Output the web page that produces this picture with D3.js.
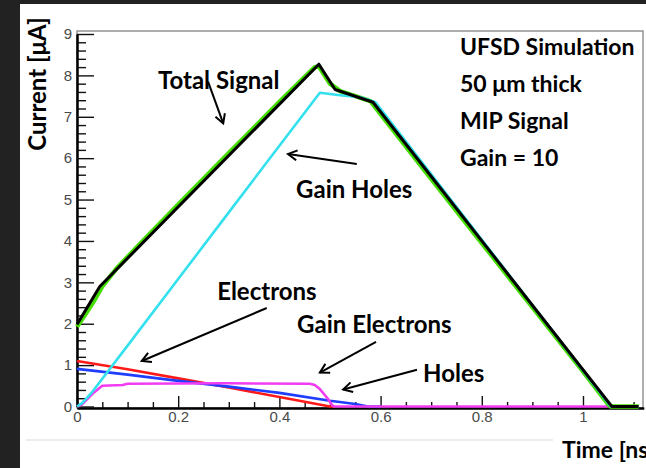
<!DOCTYPE html>
<html>
<head>
<meta charset="utf-8">
<script src="https://cdn.jsdelivr.net/npm/d3@7"></script>
<style>
  body { margin: 0; background: #fff; }
  svg { display: block; }
</style>
</head>
<body>
<script>
// time in ns, current in uA
var totalTime    = [0, 0.045, 0.478, 0.51, 0.585, 1.057, 1.11];
var totalCurrent = [1.98, 2.9, 8.27, 7.66, 7.35, 0, 0];

var simTime    = [0, 0.015, 0.035, 0.05, 0.08, 0.12, 0.2, 0.3, 0.4, 0.47, 0.478, 0.5, 0.52, 0.58, 0.7, 0.8, 0.9, 1.0, 1.05, 1.055, 1.11];
var simCurrent = [1.93, 2.2, 2.58, 2.9, 3.36, 3.87, 4.88, 6.12, 7.36, 8.2, 8.22, 7.8, 7.62, 7.38, 5.5, 3.95, 2.4, 0.85, 0.05, 0, 0];

var gainHolesTime    = [0, 0.01, 0.03, 0.1, 0.2, 0.3, 0.4, 0.48, 0.52, 0.56, 0.59, 1.055, 1.11];
var gainHolesCurrent = [0, 0.08, 0.35, 1.47, 3.08, 4.69, 6.3, 7.58, 7.52, 7.47, 7.35, 0, 0];

var electronsTime    = [0, 0.1, 0.2, 0.3, 0.4, 0.5, 0.51];
var electronsCurrent = [1.1, 0.9, 0.68, 0.46, 0.23, 0.0, 0];

var holesTime    = [0, 0.1, 0.2, 0.3, 0.4, 0.5, 0.55, 0.575, 0.6];
var holesCurrent = [0.91, 0.77, 0.62, 0.48, 0.33, 0.14, 0.06, 0, 0];

var gainElecTime    = [0, 0.01, 0.03, 0.05, 0.09, 0.1, 0.3, 0.46, 0.47, 0.48, 0.495, 0.505, 0.51, 1.11];
var gainElecCurrent = [0, 0.05, 0.3, 0.5, 0.52, 0.55, 0.56, 0.55, 0.52, 0.42, 0.2, 0.02, 0, 0];

var xMajor = [0, 0.2, 0.4, 0.6, 0.8, 1];
var yMajor = [0, 1, 2, 3, 4, 5, 6, 7, 8, 9];

var infoLines = ["UFSD Simulation", "50 \u03bcm thick", "MIP Signal", "Gain = 10"];

// label text, position [t, I], arrow from [t, I] to [t, I]
var labelNames = ["Total Signal", "Gain Holes", "Electrons", "Gain Electrons", "Holes"];
var labelPos   = [[0.16, 7.66], [0.433, 5.04], [0.277, 2.57], [0.435, 1.78], [0.684, 0.6]];
var arrowFrom  = [[0.259, 7.85], [0.553, 5.86], [0.375, 2.38], [0.591, 1.56], [0.672, 0.89]];
var arrowTo    = [[0.289, 6.84], [0.417, 6.10], [0.128, 1.10], [0.480, 0.82], [0.526, 0.41]];

var w = 646;
var h = 468;
var svg = d3.select("body").append("svg")
            .attr("width", w)
            .attr("height", h);

// slide background
svg.append("rect").attr("width", w).attr("height", h).style("fill", "#fff");
svg.append("rect").attr("width", 20).attr("height", h).style("fill", "#222");
svg.append("rect").attr("width", w).attr("height", 4).style("fill", "#222");
svg.append("line")
   .attr("x1", 26).attr("x2", 553).attr("y1", 440).attr("y2", 440)
   .style("stroke", "#ececec").style("stroke-width", 2);

var x = d3.scaleLinear().domain([0, 1.12]).range([77, 643.7]);
var y = d3.scaleLinear().domain([0, 9]).range([406.5, 34]);

// frame
svg.append("rect")
   .attr("x", 77).attr("y", 31)
   .attr("width", 566).attr("height", 377)
   .style("fill", "none").style("stroke", "#777").style("stroke-width", 1.2);

var xMinor = d3.range(0, 1.12, 0.05).filter(function(v){
  return Math.abs(v / 0.2 - Math.round(v / 0.2)) > 1e-6;
});
var yMinor = d3.range(0, 9.01, 0.2).filter(function(v){
  return Math.abs(v - Math.round(v)) > 1e-6;
});

function styleAxis(g){
  g.select(".domain").style("stroke", "#000").style("stroke-width", 2);
  g.selectAll(".tick line").style("stroke", "#111").style("stroke-width", 1.4);
  g.selectAll("text")
   .style("font-family", "'Liberation Sans', Arial, sans-serif")
   .style("font-size", "15px")
   .style("fill", "#4a4a4a");
}

svg.append("g")
   .attr("transform", "translate(0,408)")
   .call(d3.axisBottom(x).tickValues(xMinor).tickSize(-6).tickSizeOuter(0).tickFormat(""))
   .call(styleAxis);
svg.append("g")
   .attr("transform", "translate(0,408)")
   .call(d3.axisBottom(x).tickValues(xMajor).tickSize(-12).tickSizeOuter(0).tickPadding(3)
         .tickFormat(function(d){ return d3.format("")(d); }))
   .call(styleAxis);

svg.append("g")
   .attr("transform", "translate(77,0)")
   .call(d3.axisLeft(y).tickValues(yMinor).tickSize(-9).tickSizeOuter(0).tickFormat(""))
   .call(styleAxis);
svg.append("g")
   .attr("transform", "translate(77,0)")
   .call(d3.axisLeft(y).tickValues(yMajor).tickSize(-17).tickSizeOuter(0).tickPadding(5))
   .call(styleAxis);

// curves
var line = d3.line()
  .x(function(d){ return x(d[0]); })
  .y(function(d){ return y(d[1]); });

function drawCurve(times, values, color, width){
  svg.append("path")
     .datum(d3.zip(times, values))
     .attr("d", line)
     .style("fill", "none")
     .style("stroke", color)
     .style("stroke-width", width)
     .style("stroke-linejoin", "round");
}

drawCurve(electronsTime, electronsCurrent, "#ff1a1a", 2.6);
drawCurve(holesTime, holesCurrent, "#1f3dff", 2.6);
drawCurve(gainElecTime, gainElecCurrent, "#f23cf2", 2.6);
drawCurve(simTime, simCurrent, "#44dd00", 4.5);
drawCurve(gainHolesTime, gainHolesCurrent, "#33e0ee", 2.6);
drawCurve(totalTime, totalCurrent, "#000", 3);

// arrows
svg.append("defs").append("marker")
   .attr("id", "head")
   .attr("markerUnits", "userSpaceOnUse")
   .attr("viewBox", "-10 -6 12 12")
   .attr("refX", 0).attr("refY", 0)
   .attr("markerWidth", 12).attr("markerHeight", 12)
   .attr("orient", "auto")
   .append("path")
   .attr("d", "M-9,-5 L0,0 L-9,5")
   .style("fill", "none").style("stroke", "#000").style("stroke-width", 2);

svg.selectAll(".arrow")
   .data(labelNames)
   .enter()
   .append("line")
   .attr("class", "arrow")
   .attr("x1", function(d,i){ return x(arrowFrom[i][0]); })
   .attr("y1", function(d,i){ return y(arrowFrom[i][1]); })
   .attr("x2", function(d,i){ return x(arrowTo[i][0]); })
   .attr("y2", function(d,i){ return y(arrowTo[i][1]); })
   .style("stroke", "#000")
   .style("stroke-width", 2)
   .attr("marker-end", "url(#head)");

var boldFont = "Lato, 'Open Sans', sans-serif";

svg.selectAll(".label")
   .data(labelNames)
   .enter()
   .append("text")
   .attr("class", "label")
   .attr("x", function(d,i){ return x(labelPos[i][0]); })
   .attr("y", function(d,i){ return y(labelPos[i][1]); })
   .style("font-family", boldFont)
   .style("font-weight", "bold")
   .style("font-size", "24px")
   .style("fill", "#000")
   .text(function(d){ return d; });

svg.selectAll(".info")
   .data(infoLines)
   .enter()
   .append("text")
   .attr("class", "info")
   .attr("x", x(0.757))
   .attr("y", function(d,i){ return 55 + i * 37; })
   .style("font-family", boldFont)
   .style("font-weight", "bold")
   .style("font-size", "23px")
   .style("fill", "#000")
   .text(function(d){ return d; });

// axis titles
svg.append("text")
   .attr("transform", "translate(46,84) rotate(-90)")
   .attr("text-anchor", "middle")
   .style("font-family", boldFont)
   .style("font-weight", "bold")
   .style("font-size", "24px")
   .text("Current [\u03bcA]");

// the reference picture cuts this title at its right edge
svg.append("text")
   .attr("x", 562).attr("y", 458)
   .style("font-family", boldFont)
   .style("font-weight", "bold")
   .style("font-size", "23px")
   .text("Time [ns]");
</script>
</body>
</html>
